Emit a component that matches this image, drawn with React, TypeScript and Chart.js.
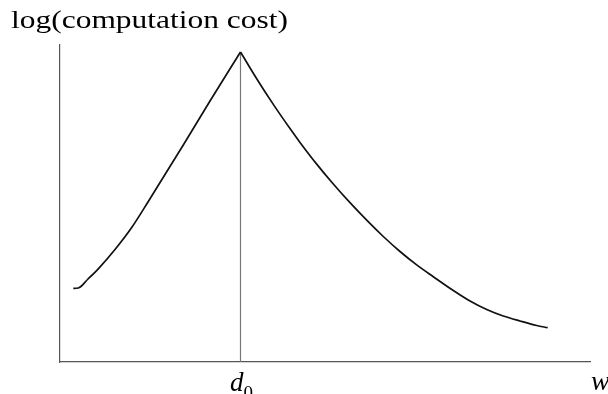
import React, { useEffect, useRef } from "react";
import { Chart, registerables } from "chart.js";

Chart.register(...registerables);

const d0 = 180.5;
const leftX = [13.3, 18.3, 28, 38.3, 55, 71.7, 88.3, 105, 123.3, 150, 180.5];
const leftY = [73.7, 74, 83, 93.2, 112.5, 134.5, 160.5, 187.5, 217, 261, 310];
const rightX = [180.5, 196.7, 213.3, 230, 240, 256.7, 273.3, 290, 306.7, 323.3, 340, 356.7, 373.3, 393.3, 410, 426.7, 443.3, 460, 476.7, 487.7];
const rightY = [310, 283.3, 257.6, 233.4, 219.6, 197.9, 178, 159.3, 141.8, 125.5, 110.5, 97.1, 85.3, 71.5, 61, 52.5, 46, 41, 36.5, 34.3];
const markerY = [0, 310];
const yTitle = "log(computation cost)";
const xTitle = "w";

const labelsPlugin = {
  id: "labels",
  afterDraw(chart: any) {
    const ctx = chart.ctx;
    const xs = chart.scales.x;
    const ca = chart.chartArea;
    ctx.save();
    ctx.fillStyle = "#000";
    ctx.textBaseline = "alphabetic";
    ctx.textAlign = "left";
    ctx.font = "25px 'Liberation Serif'";
    const w = ctx.measureText(yTitle).width;
    ctx.save();
    ctx.translate(11, 28);
    ctx.scale(277 / w, 1);
    ctx.fillText(yTitle, 0, 0);
    ctx.restore();
    const px = xs.getPixelForValue(d0);
    ctx.font = "italic 27px 'Liberation Serif'";
    ctx.textAlign = "right";
    ctx.fillText("d", px + 3, ca.bottom + 29);
    ctx.font = "19px 'Liberation Serif'";
    ctx.textAlign = "left";
    ctx.fillText("0", px + 3, ca.bottom + 37);
    ctx.font = "italic 28px 'Liberation Serif'";
    ctx.fillText(xTitle, ca.right + 1, ca.bottom + 28);
    ctx.restore();
  },
};

export default function App() {
  const ref = useRef<HTMLCanvasElement>(null);
  useEffect(() => {
    document.body.style.margin = "0";
    const line = (xs: number[], ys: number[]) => xs.map((x, i) => ({ x, y: ys[i] }));
    const chart = new Chart(ref.current!, {
      type: "line",
      data: {
        datasets: [
          {
            data: line(leftX, leftY),
            borderColor: "#111",
            borderWidth: 1.7,
            pointRadius: 0,
            cubicInterpolationMode: "monotone",
          },
          {
            data: line(rightX, rightY),
            borderColor: "#111",
            borderWidth: 1.7,
            pointRadius: 0,
            cubicInterpolationMode: "monotone",
          },
          {
            data: markerY.map((y) => ({ x: d0, y })),
            borderColor: "#777",
            borderWidth: 1.2,
            pointRadius: 0,
          },
        ],
      },
      options: {
        animation: false,
        responsive: false,
        layout: { padding: { left: 60, top: 45, right: 18, bottom: 32 } },
        plugins: { legend: { display: false }, tooltip: { enabled: false } },
        scales: {
          x: {
            type: "linear",
            min: 0,
            max: 530,
            grid: { display: false },
            ticks: { display: false },
            border: { display: true, color: "#555", width: 1.2 },
            afterFit: (s: any) => { s.height = 0; s.paddingLeft = 0; s.paddingRight = 0; },
          },
          y: {
            type: "linear",
            min: 0,
            max: 317,
            grid: { display: false },
            ticks: { display: false },
            border: { display: true, color: "#555", width: 1.2 },
            afterFit: (s: any) => { s.width = 0; s.paddingTop = 0; s.paddingBottom = 0; },
          },
        },
      },
      plugins: [labelsPlugin],
    });
    return () => chart.destroy();
  }, []);
  return (
    <div style={{ position: "absolute", left: 0, top: 0, width: 608, height: 394 }}>
      <canvas ref={ref} width={608} height={394} />
    </div>
  );
}
